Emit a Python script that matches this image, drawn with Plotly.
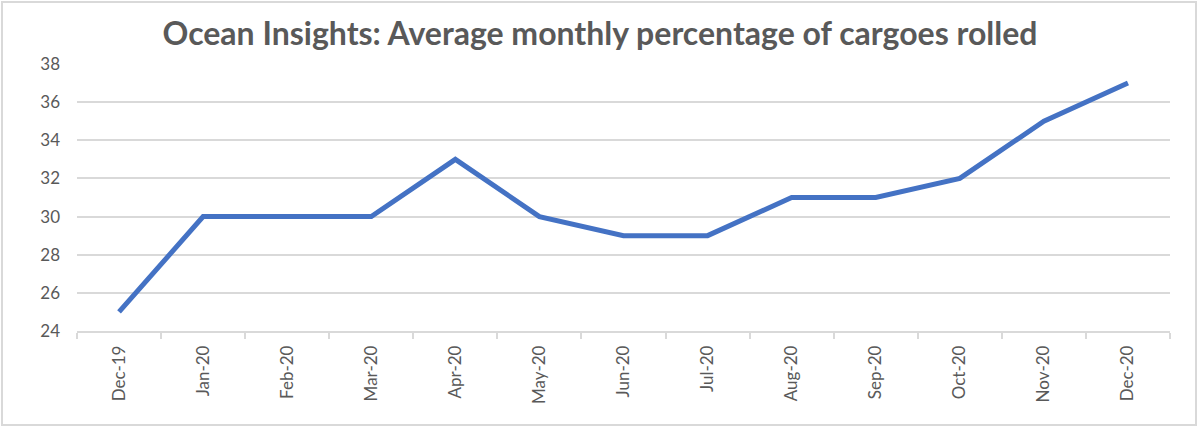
import plotly.graph_objects as go

# monthly rolled cargo share, percent
months = ["Dec-19", "Jan-20", "Feb-20", "Mar-20", "Apr-20", "May-20", "Jun-20",
          "Jul-20", "Aug-20", "Sep-20", "Oct-20", "Nov-20", "Dec-20"]
rolled_pct = [25, 30, 30, 30, 33, 30, 29, 29, 31, 31, 32, 35, 37]
y_ticks = [24, 26, 28, 30, 32, 34, 36, 38]

grey_text = "#595959"
light_grey = "#d9d9d9"

fig = go.Figure()
fig.add_trace(go.Scatter(
    x=months, y=rolled_pct, mode="lines",
    line=dict(color="#4472C4", width=5),
    hoverinfo="x+y",
))

# plot area: x 77..1170, y 64..331 (same as the excel export)
fig.update_layout(
    width=1200, height=427,
    margin=dict(l=77, r=30, t=64, b=96),
    paper_bgcolor="white", plot_bgcolor="white",
    showlegend=False,
    font=dict(family="Lato, Open Sans, sans-serif", color=grey_text, size=17),
    title=dict(
        text="<b>Ocean Insights: Average monthly percentage of cargoes rolled</b>",
        x=0.5, xanchor="center", y=0.92, yanchor="middle",
        font=dict(size=32, color=grey_text),
    ),
    # chart frame
    shapes=[dict(type="rect", xref="paper", yref="paper",
                 x0=-75 / 1093, x1=1 + 26 / 1093, y0=-94 / 267, y1=1 + 62 / 267,
                 line=dict(color=light_grey, width=2), layer="below")],
)

fig.update_xaxes(
    type="category", range=[-0.5, len(months) - 0.5],
    tickangle=-90, tickson="boundaries",
    ticks="outside", ticklen=6, tickcolor=light_grey, tickwidth=1.5,
    showline=True, linecolor=light_grey, linewidth=1.5,
    showgrid=False, ticklabelstandoff=6,
)
fig.update_yaxes(
    range=[24, 38], tickvals=y_ticks,
    showgrid=True, gridcolor=light_grey, gridwidth=1.5,
    zeroline=False, showline=False, ticks="", ticklabelstandoff=16,
)

# drop the default 8px body margin so the page matches the figure size
fig.write_html("out.html", config={"displayModeBar": False},
               post_script="document.body.style.margin = '0';")
